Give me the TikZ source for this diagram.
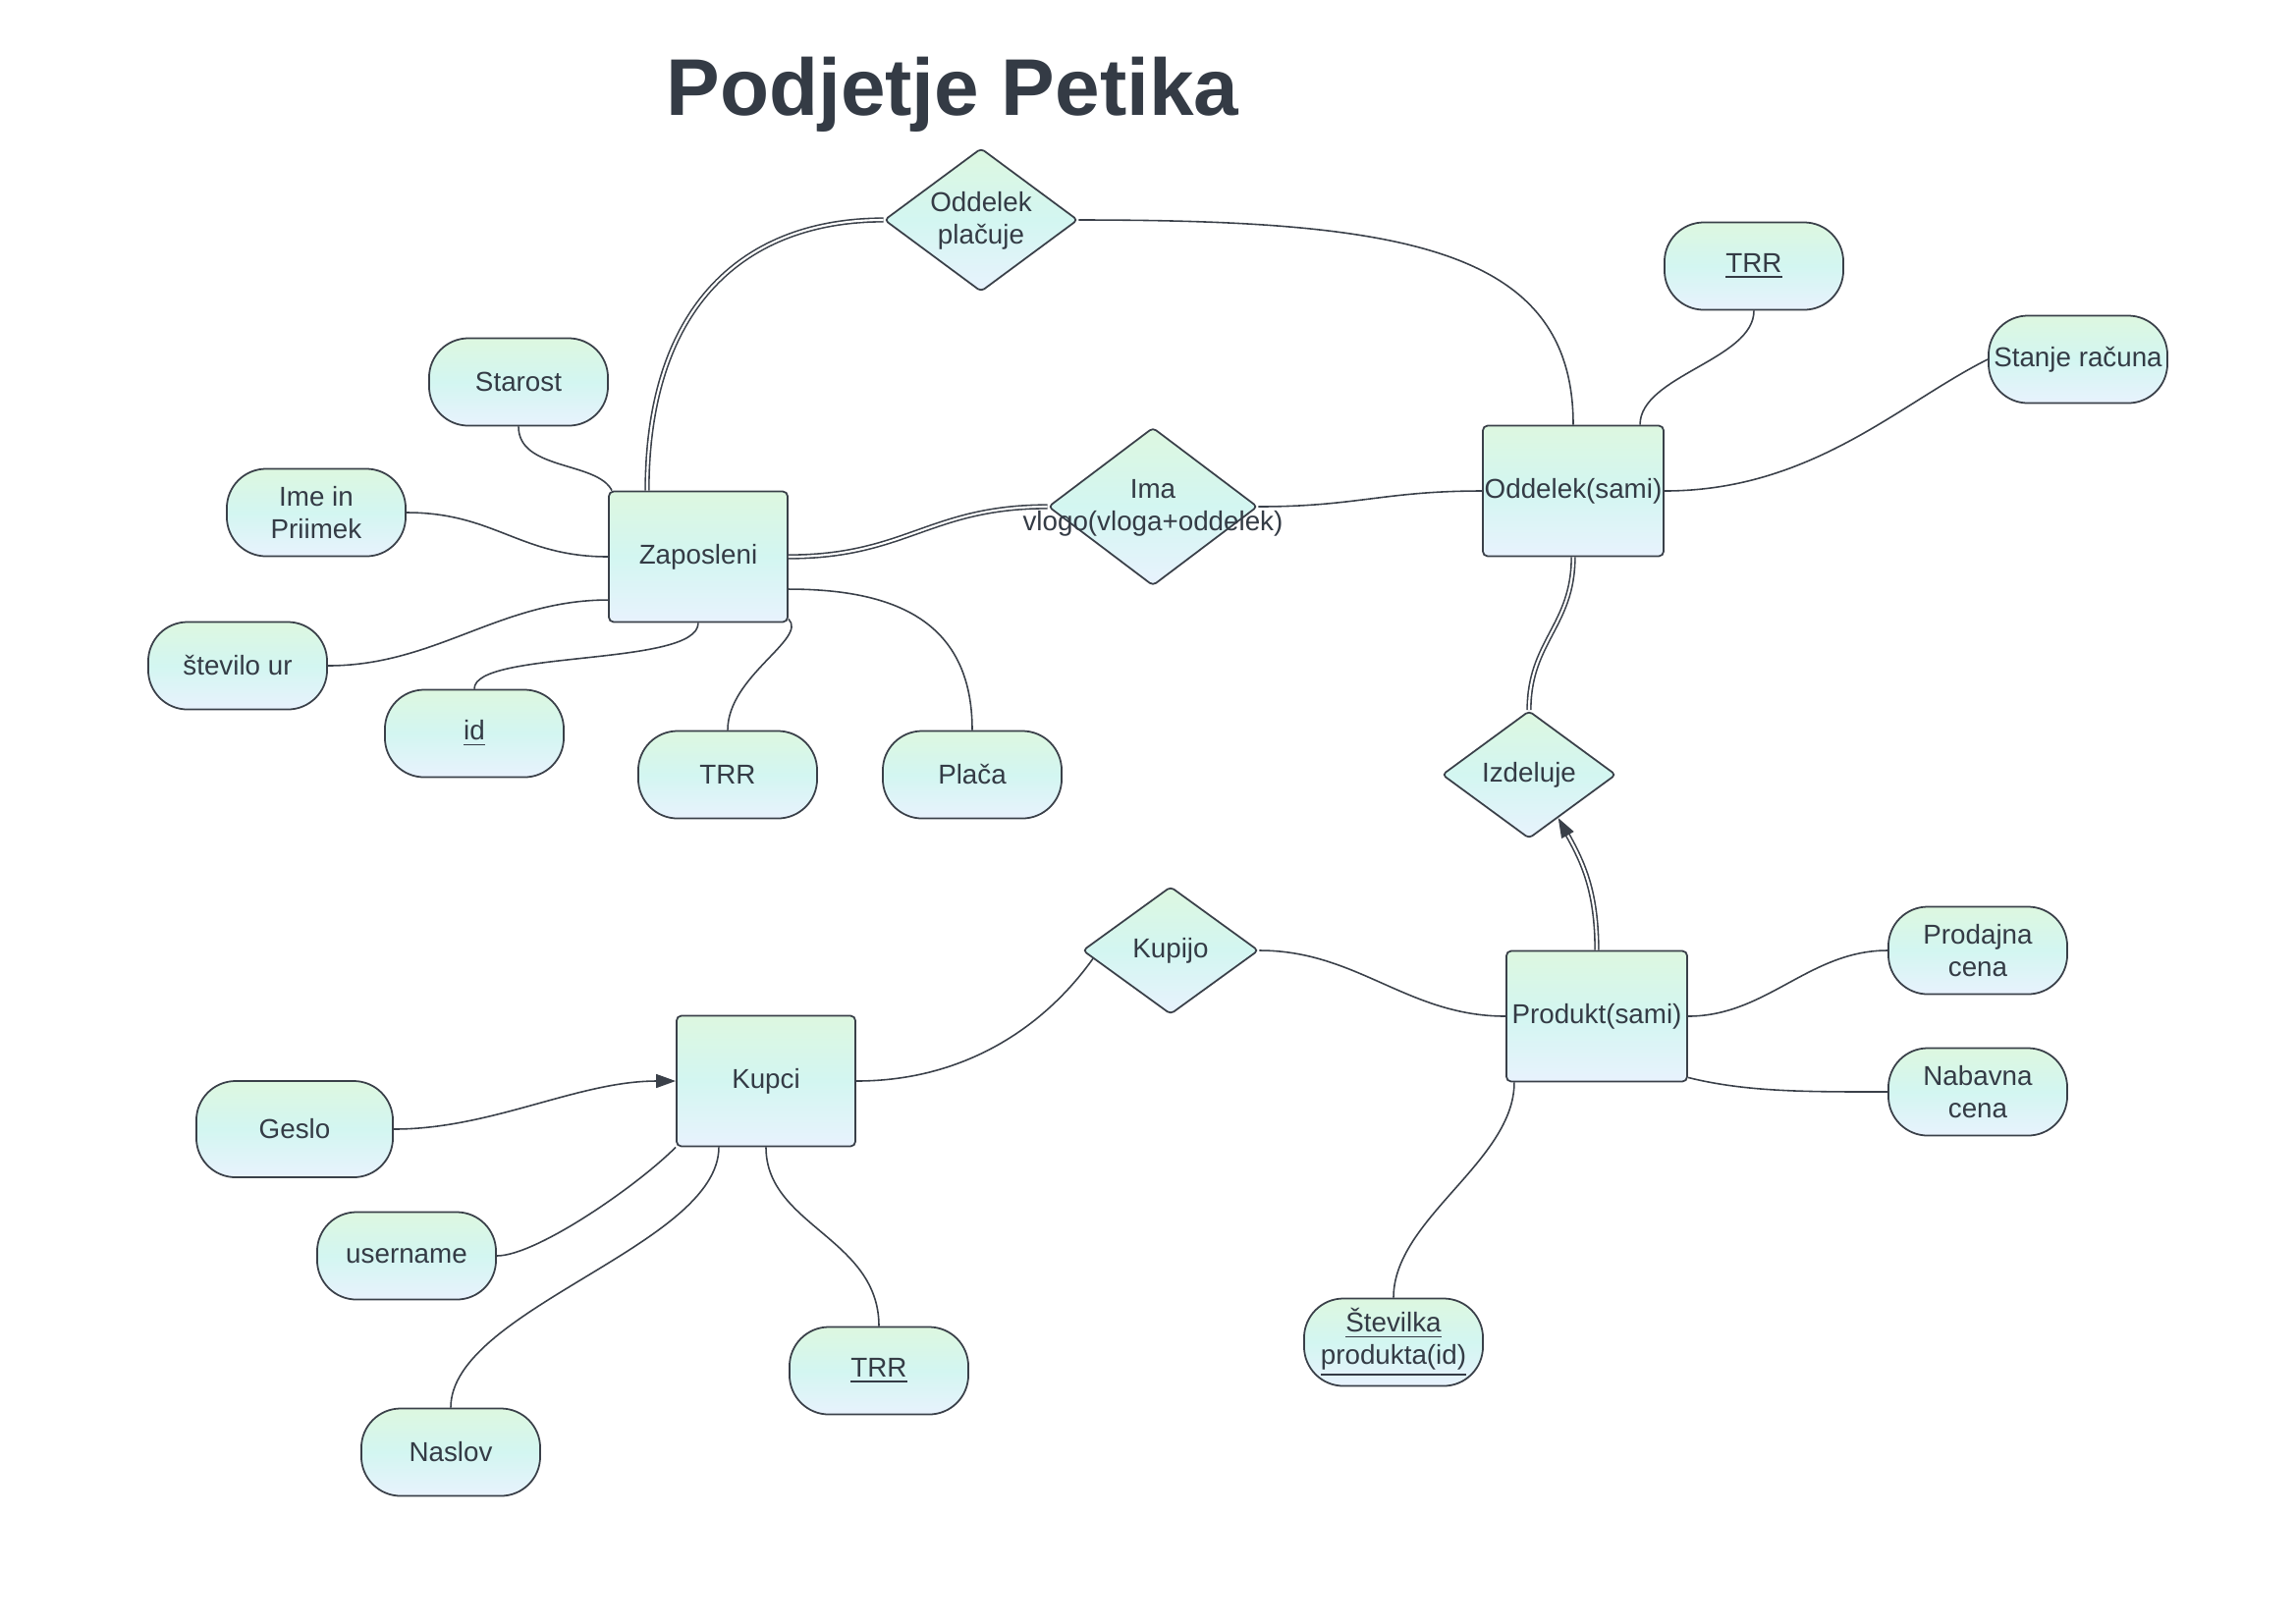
\documentclass[tikz,border=0pt]{standalone}
\usepackage{fontspec}
\setmainfont{Liberation Sans}
\usepackage{xcolor}
\definecolor{linegray}{HTML}{3A4049}
\definecolor{textgray}{HTML}{343B45}
\definecolor{shadetop}{HTML}{DDF7E0}
\definecolor{shademid}{HTML}{D3F6F1}
\definecolor{shadebot}{HTML}{E8F2FD}
\usepackage{tikz}
\usetikzlibrary{shapes.geometric}
\usetikzlibrary{arrows.meta}
\tikzset{>={Triangle[length=0.2cm,width=0.14cm]}}
\tikzset{
  base/.style={draw=linegray, line width=0.5pt, top color=shadetop, bottom color=shadebot,
    middle color=shademid, text=textgray, font=\fontsize{7.9}{9.4}\selectfont,
    inner sep=0pt, align=center},
  entity/.style={base, rectangle, rounded corners=0.05cm, minimum width=1.82cm, minimum height=1.33cm},
  attrib/.style={base, rectangle, rounded corners=0.4cm, minimum width=1.82cm, minimum height=0.89cm},
  relation/.style={base, diamond, rounded corners=0.04cm},
  link/.style={draw=linegray, line width=0.45pt},
  dlink/.style={link, double=white, double distance=0.6pt},
}
\newcommand{\rtext}[1]{\makebox[0pt]{\smash{\raisebox{-0.08cm}{\begin{tabular}{@{}c@{}}#1\end{tabular}}}}}

\begin{document}
\begin{tikzpicture}[x=0.01cm, y=-0.01cm]
\useasboundingbox (0,0) rectangle (2338,1653);
\node[anchor=base, text=textgray, font=\fontsize{23.3}{28}\selectfont\bfseries] (title) at (970,117) {Podjetje Petika};

\node[entity] (zap) at (711,567) {Zaposleni};
\node[entity, minimum width=1.84cm] (odd) at (1602,500) {Oddelek(sami)};
\node[entity] (kup) at (780,1101) {Kupci};
\node[entity, minimum width=1.84cm] (prod) at (1626,1035) {Produkt(sami)};

\node[relation, minimum width=1.97cm, minimum height=1.46cm] (placuje) at (999,224) {\rtext{Oddelek\\plačuje}};
\node[relation, minimum width=2.13cm, minimum height=1.61cm] (vloga) at (1174,516) {\rtext{Ima\\vlogo(vloga+oddelek)}};
\node[relation, minimum width=1.77cm, minimum height=1.30cm] (izd) at (1557,789) {\rtext{Izdeluje}};
\node[relation, minimum width=1.79cm, minimum height=1.30cm] (kupijo) at (1192,968) {\rtext{Kupijo}};

\node[attrib] (starost) at (528,389) {Starost};
\node[attrib] (ime) at (322,522) {Ime in\\Priimek};
\node[attrib] (stur) at (242,678) {število ur};
\node[attrib] (id) at (483,747) {\underline{id}};
\node[attrib] (trrz) at (741,789) {TRR};
\node[attrib] (placa) at (990,789) {Plača};
\node[attrib] (trro) at (1786,271) {\underline{TRR}};
\node[attrib] (stanje) at (2116,366) {Stanje računa};
\node[attrib] (prodc) at (2014,968) {Prodajna\\cena};
\node[attrib] (nabc) at (2014,1112) {Nabavna\\cena};
\node[attrib] (stev) at (1419,1367) {\underline{Številka}\\\underline{produkta(id)}};
\node[attrib, minimum width=2cm, minimum height=0.98cm] (geslo) at (300,1150) {Geslo};
\node[attrib] (user) at (414,1279) {username};
\node[attrib] (trrk) at (895,1396) {\underline{TRR}};
\node[attrib] (naslov) at (459,1479) {Naslov};

\draw[dlink] ([xshift=-0.52cm]zap.north) .. controls +(0,-190) and +(-140,0) .. (placuje.west);
\draw[link] (placuje.east) .. controls +(330,0) and +(0,-180) .. (odd.north);
\draw[dlink] (zap.east) .. controls +(120,0) and +(-120,0) .. (vloga.west);
\draw[link] (vloga.east) .. controls +(100,0) and +(-100,0) .. (odd.west);
\draw[dlink] (odd.south) .. controls +(0,70) and +(0,-70) .. (izd.north);
\draw[dlink,->] (prod.north) .. controls +(0,-60) and +(25,45) .. (izd.-56);
\draw[link] (kupijo.186) .. controls +(-50,70) and +(110,0) .. (kup.east);
\draw[link] (kupijo.east) .. controls +(100,0) and +(-100,0) .. (prod.west);

\draw[link] (starost.south) .. controls +(0,45) and +(-15,-30) .. ([xshift=0.04cm]zap.north west);
\draw[link] (ime.east) .. controls +(90,0) and +(-90,0) .. (zap.west);
\draw[link] (stur.east) .. controls +(110,0) and +(-110,0) .. ([yshift=-0.44cm]zap.west);
\draw[link] (id.north) .. controls +(0,-40) and +(0,45) .. (zap.south);
\draw[link] (trrz.north) .. controls +(0,-55) and +(20,20) .. ([yshift=0.04cm]zap.south east);
\draw[link] (placa.north) .. controls +(0,-110) and +(110,0) .. ([yshift=-0.33cm]zap.east);
\draw[link] (trro.south) .. controls +(0,50) and +(0,-50) .. ([xshift=0.68cm]odd.north);
\draw[link] (odd.east) .. controls +(150,0) and +(-90,45) .. (stanje.west);
\draw[link] (prod.east) .. controls +(80,0) and +(-80,0) .. (prodc.west);
\draw[link] ([yshift=0.05cm]prod.south east) .. controls +(60,15) and +(-80,0) .. (nabc.west);
\draw[link] (stev.north) .. controls +(0,-80) and +(0,80) .. ([xshift=-0.84cm]prod.south);
\draw[link,->] (geslo.east) .. controls +(100,0) and +(-100,0) .. (kup.west);
\draw[link] (user.east) .. controls +(40,0) and +(-40,40) .. (kup.south west);
\draw[link] (naslov.north) .. controls +(0,-100) and +(0,100) .. ([xshift=-0.48cm]kup.south);
\draw[link] (trrk.north) .. controls +(0,-90) and +(0,80) .. (kup.south);
\end{tikzpicture}
\end{document}
